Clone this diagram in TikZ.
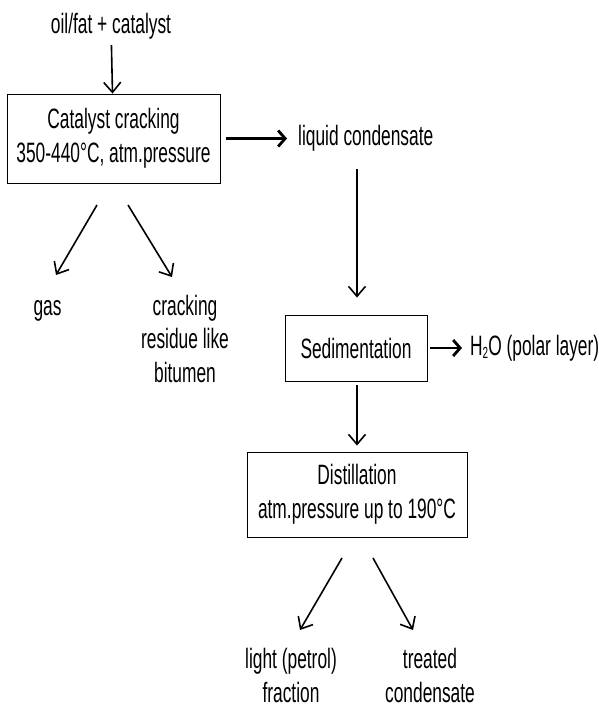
\documentclass[tikz,border=0pt]{standalone}
\usepackage{fontspec}
\setmainfont{Liberation Sans}[FakeStretch=0.62]
\usetikzlibrary{arrows.meta,positioning}

\begin{document}
\begin{tikzpicture}[x=1pt,y=-1pt,
    font=\fontsize{28}{33.5}\selectfont,
    box/.style={draw,line width=0.9pt,align=center,inner sep=0pt},
    lbl/.style={align=center,inner sep=0pt},
    arr/.style={-{Straight Barb[length=10pt,width=17pt]},line width=1.6pt},
    harr/.style={-{Straight Barb[length=7pt,width=16pt]},line width=2.8pt}]
    \useasboundingbox (0,0) rectangle (599,707);

    % main line
    \node[lbl,anchor=base] (feed) at (111,33) {oil/fat + catalyst};
    \node[box,minimum width=213pt,minimum height=89pt] (crack) at (113.5,138.5)
        {Catalyst cracking\\350-440°C, atm.pressure};
    \node[lbl,anchor=base west] (liquid) at (298,145) {liquid condensate};
    \node[box,minimum width=142pt,minimum height=66pt] (sedim) at (356,348) {Sedimentation};
    \node[lbl,anchor=west] (water) at (470,348) {H\raisebox{-0.25ex}{\fontsize{16}{16}\selectfont 2}O (polar layer)};
    \node[box,minimum width=220pt,minimum height=85pt] (distil) at (357,494.5)
        {Distillation\\atm.pressure up to 190°C};

    % products
    \node[lbl,anchor=base] (gas) at (47.5,315) {gas};
    \node[lbl,anchor=base] (residue) at (185,382) {cracking\\residue like\\bitumen};
    \node[lbl,anchor=base] (light) at (291,702) {light (petrol)\\fraction};
    \node[lbl,anchor=base] (treated) at (430,702) {treated\\condensate};

    \coordinate (c1) at (97,205);
    \coordinate (c2) at (128,205);
    \coordinate (d1) at (342,558);
    \coordinate (d2) at (373,558);
    \coordinate (g1) at (56,275);
    \coordinate (g2) at (172,277);
    \coordinate (e1) at (300,630);
    \coordinate (e2) at (413,630);

    \draw[arr,shorten <=6pt] (feed) -- (crack);
    \draw[harr,shorten <=6pt,shorten >=11pt] (crack.east) -- (crack.east -| liquid.west);
    \draw[arr,shorten <=18pt,shorten >=17pt] (liquid.south -| distil) -- (sedim.north -| distil);
    \draw[harr,shorten <=3pt,shorten >=8pt] (sedim.east) -- (water.west);
    \draw[arr,shorten <=4pt,shorten >=6pt] (sedim.south -| distil) -- (distil.north);
    \draw[arr] (c1) -- (g1);
    \draw[arr] (c2) -- (g2);
    \draw[arr] (d1) -- (e1);
    \draw[arr] (d2) -- (e2);
\end{tikzpicture}
\end{document}
